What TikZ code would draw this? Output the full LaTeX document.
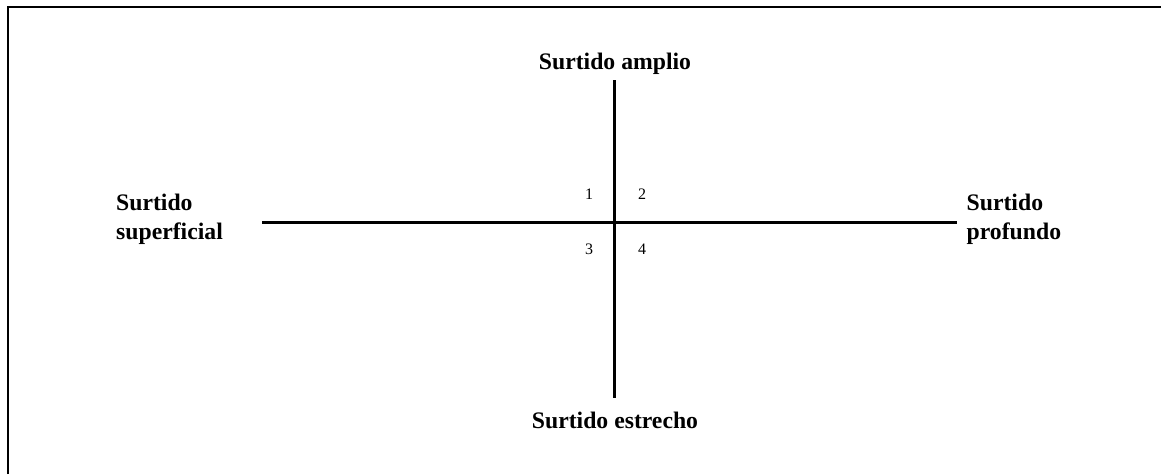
\documentclass[tikz,border=0pt]{standalone}
\usepackage{fontspec}
\setmainfont{Liberation Serif}
\usetikzlibrary{positioning}

\begin{document}
\begin{tikzpicture}[
        x=1pt, y=-1pt,
        % Define common styles for the axes and the text
        axis/.style={line width=3pt},
        frame/.style={line width=2pt},
        pole/.style={font=\fontsize{23.7}{28.6}\selectfont\bfseries, inner sep=0pt},
        quad/.style={font=\fontsize{16}{19}\selectfont, inner sep=0pt}
    ]
    \useasboundingbox (0,0) rectangle (1161,474);

        % Frame, only its top and left sides lie on the page
        \draw[frame] (8,474) |- (1161,7);

        % Define the axis ends
        \coordinate (west) at (262,222);
        \coordinate (east) at (957,222);
        \coordinate (north) at (614,80);
        \coordinate (south) at (614,398);

        % Define the pole labels
        \node[pole, anchor=base] (amplio) at (615,69) {Surtido amplio};

        \node[pole, anchor=base] (estrecho) at (615,428) {Surtido estrecho};

        \node[pole, anchor=base west, align=left] (superficial) at (116,239.3) {Surtido\\superficial};

        \node[pole, anchor=base west, align=left] (profundo) at (966.5,239.3) {Surtido\\profundo};

        % Define the quadrant numbers
        \node[quad] (q1) at (589,194) {1};
        \node[quad] (q2) at (642,194) {2};
        \node[quad] (q3) at (589,249) {3};
        \node[quad] (q4) at (642,249) {4};

        % Draw the axes
        \draw[axis] (west) -- (east);

        \draw[axis] (north) -- (south);

    \end{tikzpicture}
\end{document}
